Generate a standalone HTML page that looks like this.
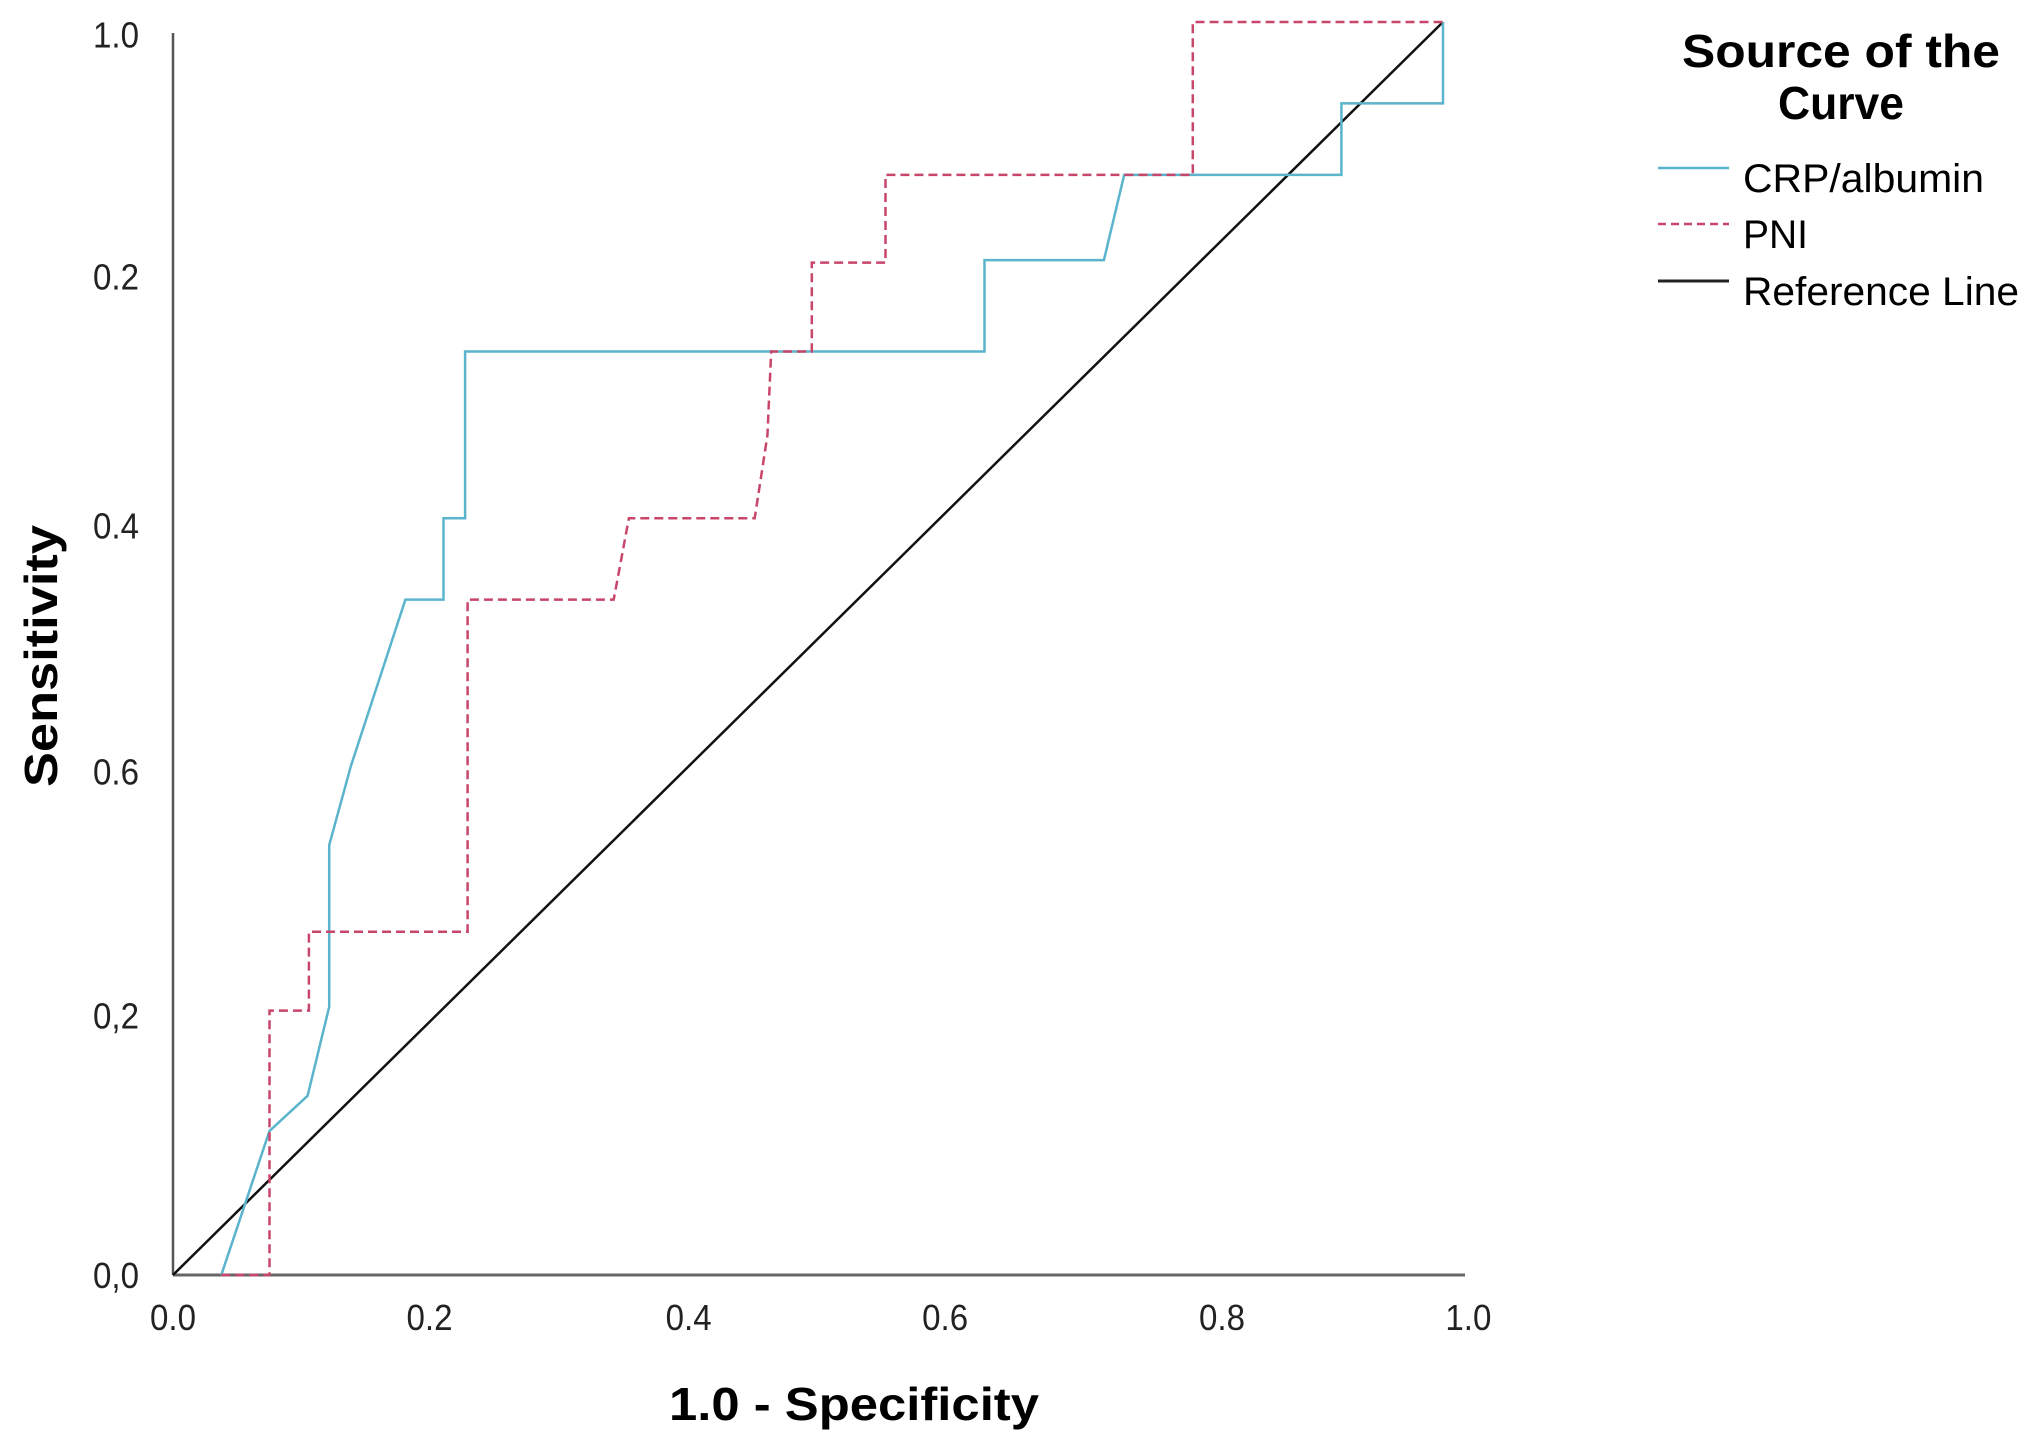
<!DOCTYPE html>
<html><head><meta charset="utf-8"><style>
html,body{margin:0;padding:0;background:#fff;}
svg{display:block;font-family:"Liberation Sans",Arial,sans-serif;}
</style></head><body>
<svg id="chart" width="2039" height="1455" viewBox="0 0 2039 1455" xmlns="http://www.w3.org/2000/svg">
<g id="axes"></g>
<g id="series"></g>
<g>
<text x="1841" y="67" font-size="46" font-weight="bold" text-anchor="middle" textLength="318" lengthAdjust="spacingAndGlyphs">Source of the</text>
<text x="1841" y="119" font-size="46" font-weight="bold" text-anchor="middle" textLength="126" lengthAdjust="spacingAndGlyphs">Curve</text>
<line x1="1658" y1="168" x2="1729" y2="168" stroke="#5ab4cc" stroke-width="2.5"/>
<text x="1743" y="192" font-size="40" textLength="241" lengthAdjust="spacingAndGlyphs">CRP/albumin</text>
<line x1="1658" y1="224" x2="1729" y2="224" stroke="#c8466a" stroke-width="2.5" stroke-dasharray="8,5"/>
<text x="1743" y="248" font-size="40" textLength="65" lengthAdjust="spacingAndGlyphs">PNI</text>
<line x1="1658" y1="281" x2="1729" y2="281" stroke="#222" stroke-width="3"/>
<text x="1743" y="305" font-size="40" textLength="276" lengthAdjust="spacingAndGlyphs">Reference Line</text>
</g>
<text transform="translate(57,656) rotate(-90)" font-size="46" font-weight="bold" text-anchor="middle" textLength="262" lengthAdjust="spacingAndGlyphs">Sensitivity</text>
<text x="854" y="1420" font-size="46" font-weight="bold" text-anchor="middle" textLength="370" lengthAdjust="spacingAndGlyphs">1.0 - Specificity</text>
</svg>
<script>
const crpX = [0.038,0.076,0.106,0.123,0.123,0.140,0.183,0.213,0.213,0.230,0.230,0.639,0.639,0.733,0.749,0.920,0.920,1.0,1.0];
const crpY = [0,0.115,0.143,0.214,0.343,0.406,0.539,0.539,0.604,0.604,0.737,0.737,0.810,0.810,0.878,0.878,0.935,0.935,1.0];
const pniX = [0.038,0.076,0.076,0.107,0.107,0.232,0.232,0.347,0.359,0.458,0.468,0.471,0.503,0.503,0.561,0.561,0.803,0.803,1.0];
const pniY = [0,0,0.211,0.211,0.274,0.274,0.539,0.539,0.604,0.604,0.670,0.737,0.737,0.808,0.808,0.878,0.878,1.0,1.0];
const refX = [0,1];
const refY = [0,1];
const xTickVals = [0,0.202,0.406,0.608,0.826,1.02];
const xTickLabels = ["0.0","0.2","0.4","0.6","0.8","1.0"];
const yTickVals = [0.99,0.797,0.598,0.402,0.207,0];
const yTickLabels = ["1.0","0.2","0.4","0.6","0,2","0,0"];

const NS="http://www.w3.org/2000/svg";
const X0=173,X1=1443,Y0=1275,Y1=22;
function sx(v){return X0+v*(X1-X0);}
function sy(v){return Y0-v*(Y0-Y1);}
const axes=document.getElementById('axes'), series=document.getElementById('series');
function mk(tag,attrs,parent){const e=document.createElementNS(NS,tag);for(const k in attrs)e.setAttribute(k,attrs[k]);parent.appendChild(e);return e;}

let ya=mk('line',{x1:X0,y1:33,x2:X0,y2:Y0,stroke:'#555','stroke-width':2.5},axes);


let xa=mk('line',{x1:X0,y1:Y0,x2:1465,y2:Y0,stroke:'#666','stroke-width':3},axes);


xTickVals.forEach((v,i)=>{
  const t=mk('text',{x:sx(v),y:1330,'font-size':36,'text-anchor':'middle',fill:'#222',textLength:46,lengthAdjust:'spacingAndGlyphs'},axes);
  t.textContent=xTickLabels[i];
  
  
});
yTickVals.forEach((v,i)=>{
  const t=mk('text',{x:139,y:sy(v)+13,'font-size':36,'text-anchor':'end',fill:'#222',textLength:46,lengthAdjust:'spacingAndGlyphs'},axes);
  t.textContent=yTickLabels[i];
  
  
});
function pts(xs,ys){return xs.map((x,i)=>sx(x).toFixed(1)+','+sy(ys[i]).toFixed(1)).join(' ');}
let ref=mk('polyline',{points:pts(refX,refY),fill:'none',stroke:'#111','stroke-width':2.5},series);


let crp=mk('polyline',{points:pts(crpX,crpY),fill:'none',stroke:'#5ab4cc','stroke-width':2.5},series);


let pni=mk('polyline',{points:pts(pniX,pniY),fill:'none',stroke:'#c8466a','stroke-width':2.5,'stroke-dasharray':'9,5'},series);


</script>
</body></html>
